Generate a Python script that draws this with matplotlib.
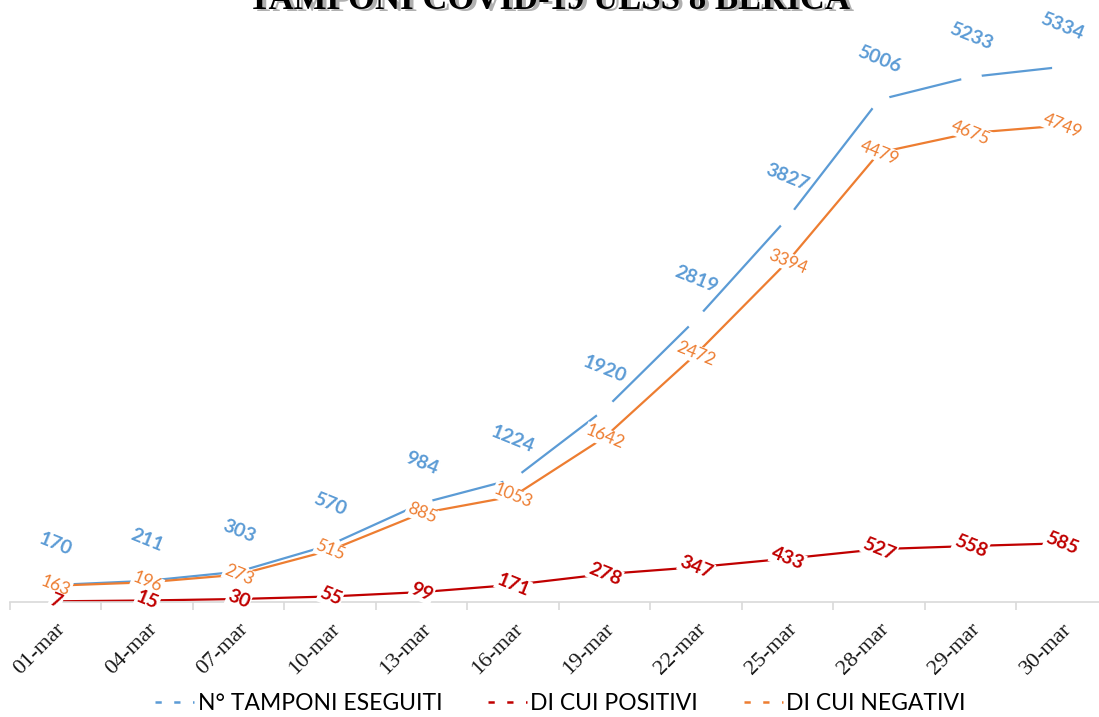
import matplotlib.pyplot as plt
from matplotlib.lines import Line2D

# ---------------- DATA ----------------
dates = ["01-mar", "04-mar", "07-mar", "10-mar", "13-mar", "16-mar",
         "19-mar", "22-mar", "25-mar", "28-mar", "29-mar", "30-mar"]
tamponi  = [170, 211, 303, 570, 984, 1224, 1920, 2819, 3827, 5006, 5233, 5334]
positivi = [7, 15, 30, 55, 99, 171, 278, 347, 433, 527, 558, 585]
negativi = [163, 196, 273, 515, 885, 1053, 1642, 2472, 3394, 4479, 4675, 4749]

BLUE   = "#5B9BD5"
ORANGE = "#ED7D31"
RED    = "#C00000"
ROT    = -22
LBL_FONT = "Lato"

fig = plt.figure(figsize=(10.99, 7.17), dpi=100)
ax = fig.add_axes([0.0091, 0.1604, 0.999, 0.8396])
x = list(range(len(dates)))

# blue line, with gaps cut at each point
ax.plot(x, tamponi, color=BLUE, lw=1.6, zorder=1, solid_capstyle="butt")
ax.plot(x, tamponi, ls="none", marker="o", ms=15, mfc="white", mec="none", zorder=1.5)
ax.plot(x, negativi, color=ORANGE, lw=1.6, zorder=2)
ax.plot(x, positivi, color=RED, lw=1.6, zorder=2)

box = dict(boxstyle="square,pad=0.05", fc="white", ec="none")
for xi, v in zip(x, tamponi):
    ax.annotate(str(v), (xi, v), xytext=(0, 29), textcoords="offset points",
                ha="center", va="center", rotation=ROT, color=BLUE,
                fontsize=14, fontweight="bold", family=LBL_FONT, zorder=4)
for xi, v in zip(x, negativi):
    ax.text(xi, v, str(v), ha="center", va="center", rotation=ROT, color=ORANGE,
            fontsize=12.5, family=LBL_FONT, bbox=box, zorder=4)
for xi, v in zip(x, positivi):
    ax.text(xi, v, str(v), ha="center", va="center", rotation=ROT, color=RED,
            fontsize=14, fontweight="bold", family=LBL_FONT, bbox=box, zorder=4)

ax.set_xlim(-0.5, len(dates) - 0.5)
ax.set_ylim(0, 6000)
ax.set_yticks([])
for s in ["top", "right", "left"]:
    ax.spines[s].set_visible(False)
ax.spines["bottom"].set_color("#D9D9D9")
ax.spines["bottom"].set_linewidth(1.2)

# boundary tick marks, labels centred on categories
ax.set_xticks([i - 0.5 for i in range(len(dates) + 1)], minor=False)
ax.set_xticklabels([])
ax.tick_params(axis="x", which="major", length=6, color="#D9D9D9", width=1.2)
ax.set_xticks(x, minor=True)
ax.set_xticklabels(dates, minor=True, rotation=45, ha="right",
                   rotation_mode="anchor", family="Liberation Serif",
                   fontsize=16, color="#1a1a1a")
ax.tick_params(axis="x", which="minor", length=0, pad=13)

# title (partly cut off at the top, like the reference)
title = "TAMPONI COVID-19 ULSS 8 BERICA"
fig.text(0.5035, 0.9845, title, ha="center", va="baseline",
         family="Liberation Serif", fontweight="bold", fontsize=25, color="#b0b0b0")
fig.text(0.5, 0.987, title, ha="center", va="baseline",
         family="Liberation Serif", fontweight="bold", fontsize=25, color="black")

handles = [Line2D([], [], color=c, lw=1.8, ls=(0, (2.5, 5))) for c in (BLUE, RED, ORANGE)]
fig.legend(handles, ["N° TAMPONI ESEGUITI", "DI CUI POSITIVI", "DI CUI NEGATIVI"],
           loc="center", bbox_to_anchor=(0.51, 0.019), ncol=3, frameon=False,
           handlelength=1.7, handletextpad=0.15, columnspacing=2.0,
           prop={"family": LBL_FONT, "size": 16.5})

fig.savefig("out.png", dpi=100)
